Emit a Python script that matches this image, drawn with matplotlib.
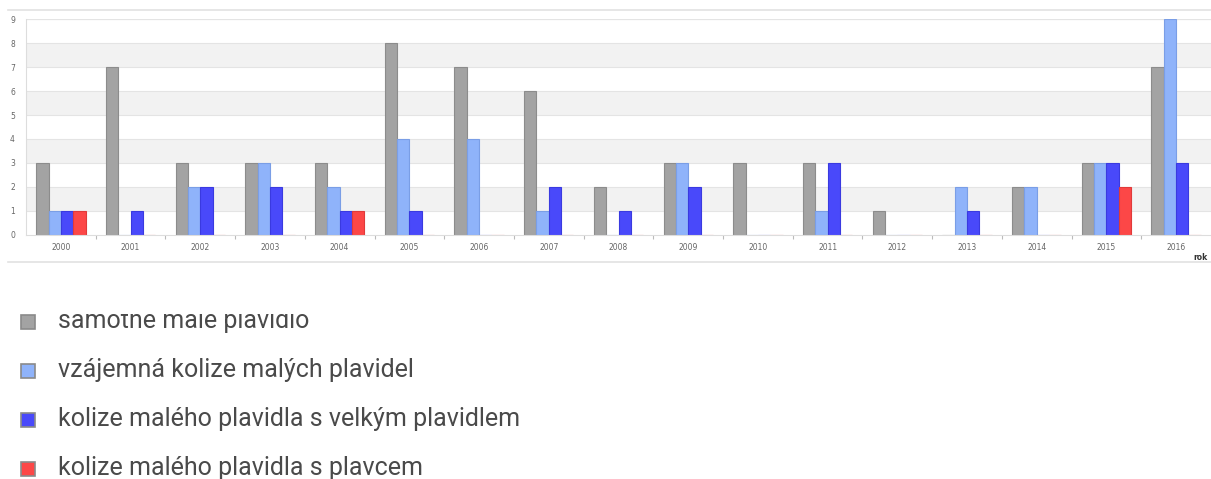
import numpy as np
import matplotlib
matplotlib.use("Agg")
import matplotlib.pyplot as plt
from matplotlib.patches import Rectangle
from matplotlib.lines import Line2D

years = [str(y) for y in range(2000, 2017)]
samotne = [3, 7, 3, 3, 3, 8, 7, 6, 2, 3, 3, 3, 1, 0, 2, 3, 7]
vzajemna = [1, 0, 2, 3, 2, 4, 4, 1, 0, 3, 0, 1, 0, 2, 2, 3, 9]
velke = [1, 1, 2, 2, 1, 1, 0, 2, 1, 2, 0, 3, 0, 1, 0, 3, 3]
plavec = [1, 0, 0, 0, 1, 0, 0, 0, 0, 0, 0, 0, 0, 0, 0, 2, 0]

series_labels = [
    "samotné malé plavidlo",
    "vzájemná kolize malých plavidel",
    "kolize malého plavidla s velkým plavidlem",
    "kolize malého plavidla s plavcem",
]
series_values = [samotne, vzajemna, velke, plavec]
face_colors = ["#a3a3a3", "#8fb3fa", "#4949fa", "#fc4747"]
edge_colors = ["#8c8c8c", "#7a9ee6", "#3a3ae0", "#e03a3a"]

W, H = 1211, 479
fig = plt.figure(figsize=(W / 100, H / 100), dpi=100)
ax = fig.add_axes([26 / W, 1 - 234.5 / H, (W - 26) / W, (234.5 - 19.5) / H])

n = len(years)
x = np.arange(n)
bw = 0.177
offsets = (np.arange(4) - 1.5) * bw

# alternating horizontal bands
for lo in [1, 3, 5, 7]:
    ax.axhspan(lo, lo + 1, color="#f2f2f2", zorder=0, lw=0)
for yv in range(1, 10):
    ax.axhline(yv, color="#e4e4e4", lw=0.8, zorder=0.5)

for vals, off, fc, ec in zip(series_values, offsets, face_colors, edge_colors):
    ax.bar(x + off, vals, width=bw, color=fc, edgecolor=ec, linewidth=0.8, zorder=2)

ax.set_xlim(-0.5, n - 0.5)
ax.set_ylim(0, 9)
ax.set_yticks(range(10))
ax.set_xticks(x)
ax.set_xticklabels(years)
ax.tick_params(axis="x", length=0, labelsize=5.5, labelcolor="#666666", pad=6)
ax.tick_params(axis="y", length=0, labelsize=5.5, labelcolor="#666666", pad=8)
ax.set_xticks(np.arange(0.5, n - 0.5, 1), minor=True)
ax.tick_params(axis="x", which="minor", length=3, color="#bbbbbb", width=0.8)

for s in ["top", "right"]:
    ax.spines[s].set_visible(False)
ax.spines["left"].set_color("#dddddd")
ax.spines["bottom"].set_color("#dddddd")
ax.spines["left"].set_linewidth(0.8)
ax.spines["bottom"].set_linewidth(0.8)
ax.axhline(9, color="#e4e4e4", lw=0.8, zorder=0.5)

# container border lines
fig.add_artist(Line2D([8 / W, 1], [1 - 10 / H] * 2, color="#e2e2e2", lw=1.2))
fig.add_artist(Line2D([8 / W, 1], [1 - 262 / H] * 2, color="#e2e2e2", lw=1.2))

fig.text(1208 / W, 1 - 257 / H, "rok", ha="right", va="center",
         fontsize=5.5, fontweight="bold", color="#333333")

# legend
legend_font = ["Roboto", "DejaVu Sans"]
baselines = [328, 377, 426, 475]
for lab, fc, by in zip(series_labels, face_colors, baselines):
    fig.add_artist(Rectangle((21 / W, 1 - (by + 1) / H), 14 / W, 14 / H,
                             transform=fig.transFigure, facecolor=fc,
                             edgecolor="#8a8a8a", lw=1.2))
    fig.text(58 / W, 1 - by / H, lab, ha="left", va="baseline",
             fontsize=18, color="#4a4a4a", family=legend_font)

fig.add_artist(Rectangle((0, 1 - 314 / H), 1, 45 / H, transform=fig.transFigure,
                         facecolor="white", edgecolor="none", zorder=10))

fig.savefig("out.png", dpi=100)
